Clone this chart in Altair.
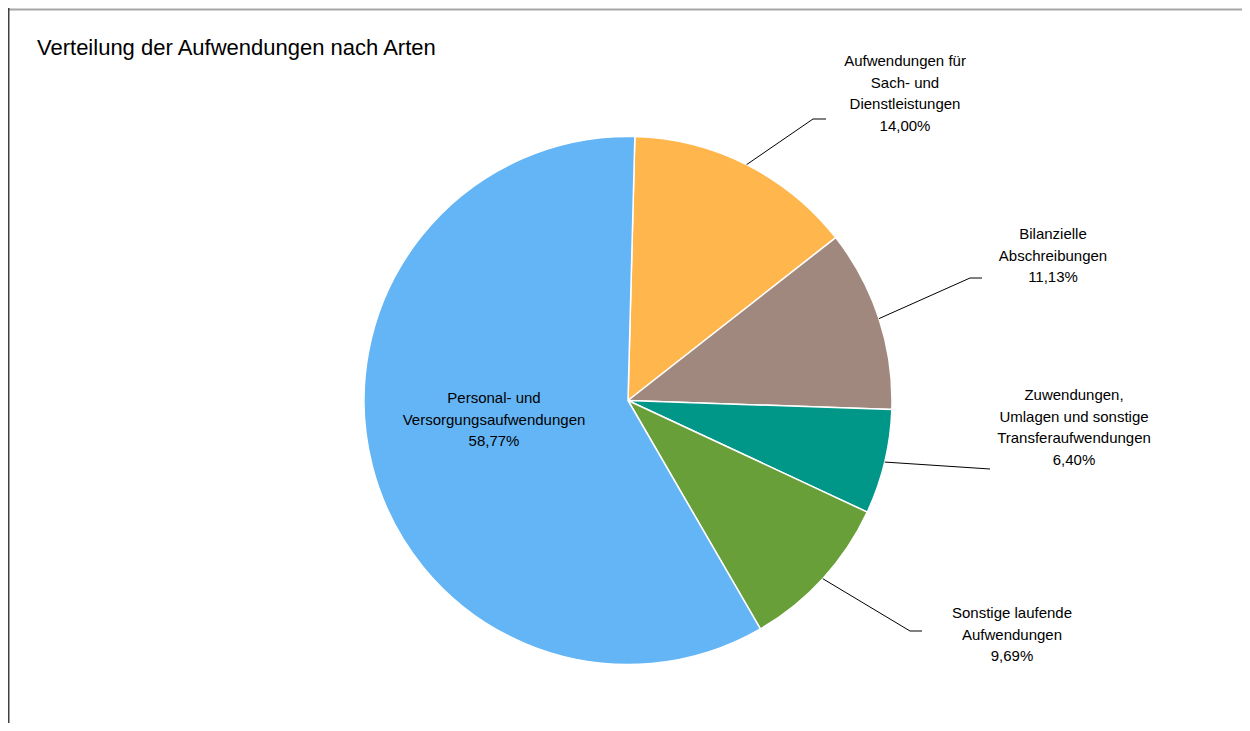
import math
import altair as alt
import pandas as pd

# ---------------- data ----------------
categories = [
    "Aufwendungen für Sach- und Dienstleistungen",
    "Bilanzielle Abschreibungen",
    "Zuwendungen, Umlagen und sonstige Transferaufwendungen",
    "Sonstige laufende Aufwendungen",
    "Personal- und Versorgungsaufwendungen",
]
shares = [14.00, 11.13, 6.40, 9.69, 58.77]
label_lines = [
    ["Aufwendungen für", "Sach- und", "Dienstleistungen"],
    ["Bilanzielle", "Abschreibungen"],
    ["Zuwendungen,", "Umlagen und sonstige", "Transferaufwendungen"],
    ["Sonstige laufende", "Aufwendungen"],
    ["Personal- und", "Versorgungsaufwendungen"],
]
title_text = "Verteilung der Aufwendungen nach Arten"

# ---------------- style / layout (page pixels) ----------------
colors = ["#FFB74D", "#A1887F", "#009688", "#689F38", "#64B5F6"]
W, H, M = 1234, 715, 8
CX, CY, R = 628, 400.5, 264
START = 0.026
FONT = "Liberation Sans"
# centre of the first text line of each label
label_first = [(905, 61), (1053, 234), (1074, 395), (1012, 613), (494, 398)]
leader_tail = [
    [(813, 119), (826, 119)],
    [(970, 278), (982, 278)],
    [(975, 468), (990, 469)],
    [(910, 631), (922, 631)],
    None,
]
title_pos = (37, 55)

# ---------------- build tables ----------------
total = sum(shares)
pie_df = pd.DataFrame({"cat": categories, "share": shares, "idx": list(range(len(shares)))})

def pct(v):
    return f"{v:.2f}".replace(".", ",") + "%"

text_rows = []
line_rows = []
cum = 0.0
for i, (c, v) in enumerate(zip(categories, shares)):
    mid = (cum + v / 2) / total
    cum += v
    ang = START + mid * 2 * math.pi
    sx, sy = CX + R * math.sin(ang), CY - R * math.cos(ang)
    lx, ly = label_first[i]
    text_rows.append({"cat": c, "label": "\n".join(label_lines[i] + [pct(v)]), "x": lx, "y": ly})
    if leader_tail[i] is not None:
        pts = [(sx, sy)] + leader_tail[i]
        for j, (px, py) in enumerate(pts):
            line_rows.append({"cat": c, "seq": j, "x": px, "y": py})

text_df = pd.DataFrame(text_rows)
line_df = pd.DataFrame(line_rows)
title_df = pd.DataFrame({"t": [title_text], "x": [title_pos[0]], "y": [title_pos[1]]})

xs = alt.Scale(domain=[M, M + W], range=[0, W], nice=False, zero=False)
ys = alt.Scale(domain=[M, M + H], range=[0, H], nice=False, zero=False)

pie = alt.Chart(pie_df).mark_arc(radius=R, stroke="white", strokeWidth=1.5).encode(
    theta=alt.Theta("share:Q", stack=True, scale=alt.Scale(range=[START, START + 2 * math.pi])),
    order=alt.Order("idx:Q"),
    color=alt.Color("cat:N", scale=alt.Scale(domain=categories, range=colors), legend=None),
    x=alt.value(CX - M),
    y=alt.value(CY - M),
)

leaders = alt.Chart(line_df).mark_line(color="#000000", strokeWidth=1).encode(
    x=alt.X("x:Q", scale=xs, axis=None),
    y=alt.Y("y:Q", scale=ys, axis=None),
    detail="cat:N",
    order="seq:Q",
)

labels = alt.Chart(text_df).mark_text(
    font=FONT, fontSize=15, lineHeight=21.5, lineBreak="\n",
    align="center", baseline="middle", color="#000000",
).encode(
    x=alt.X("x:Q", scale=xs, axis=None),
    y=alt.Y("y:Q", scale=ys, axis=None),
    text="label:N",
)

title = alt.Chart(title_df).mark_text(
    font=FONT, fontSize=22, align="left", baseline="alphabetic", color="#000000",
).encode(
    x=alt.X("x:Q", scale=xs, axis=None),
    y=alt.Y("y:Q", scale=ys, axis=None),
    text="t:N",
)

border_top = alt.Chart(title_df).mark_rule(color="#a6a6a6", strokeWidth=2).encode(
    x=alt.value(0), x2=alt.value(W), y=alt.value(1.5)
)
border_left = alt.Chart(title_df).mark_rule(color="#404040", strokeWidth=1.5).encode(
    x=alt.value(0.75), y=alt.value(0), y2=alt.value(H)
)

chart = alt.layer(pie, leaders, labels, title, border_top, border_left).properties(
    width=W, height=H, padding=0, autosize=alt.AutoSizeParams(type="none"),
    background="white",
).configure_view(stroke=None)

chart.save("out.html", embed_options={"renderer": "svg", "actions": False})
